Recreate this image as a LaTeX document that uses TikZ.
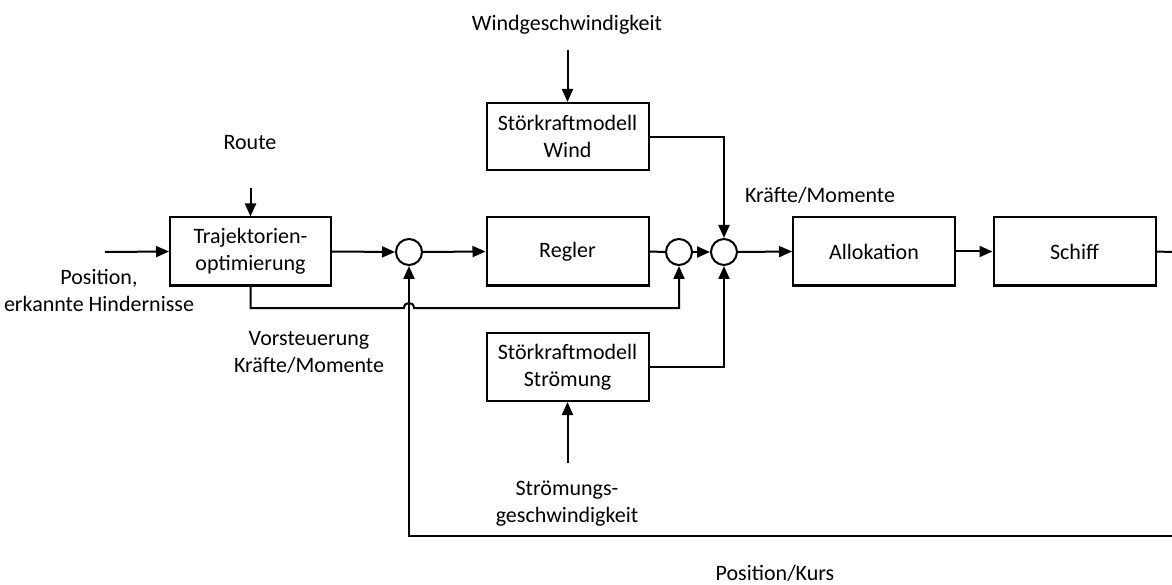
\documentclass[tikz,border=0pt]{standalone}
\usepackage{fontspec}
\setmainfont{Carlito}
\usetikzlibrary{arrows.meta}
\begin{document}
\begin{tikzpicture}[x=1pt,y=-1pt,
  every node/.style={font=\fontsize{22}{27}\selectfont},
  block/.style={draw,line width=2pt,minimum width=162pt,minimum height=68pt,inner sep=0pt,align=center},
  sumpt/.style={draw,circle,line width=2pt,minimum size=26pt,inner sep=0pt},
  lbl/.style={inner sep=0pt,align=center},
  conn/.style={line width=2pt},
  arr/.style={conn,-{Triangle[length=13pt,width=11pt]}}]
\useasboundingbox (0,0) rectangle (1172,585);

% blocks
\node[block,minimum width=161pt] (traj) at (250.5,251.5) {Trajektorien-\\optimierung};
\node[block] (regler) at (567.5,251.5) {Regler};
\node[block,minimum height=67pt] (wind) at (567.5,136.5) {Störkraftmodell\\Wind};
\node[block] (stroem) at (567.5,367) {Störkraftmodell\\Strömung};
\node[block] (alloc) at (874,251.5) {Allokation};
\node[block] (schiff) at (1074.5,251.5) {Schiff};

% summing points
\node[sumpt] (s1) at (409,252) {};
\node[sumpt] (s2) at (679,252) {};
\node[sumpt] (s3) at (724,252) {};

% labels
\node[lbl] (lwind) at (567,25) {Windgeschwindigkeit};
\node[lbl] (lroute) at (250,143) {Route};
\node[lbl] (lpos) at (99,290) {Position,\\erkannte Hindernisse};
\node[lbl] (lkraft) at (820,195) {Kräfte/Momente};
\node[lbl] (lvor) at (309,352) {Vorsteuerung\\Kräfte/Momente};
\node[lbl] (lstr) at (567,504) {Strömungs-\\geschwindigkeit};
\node[lbl] (lkurs) at (775,573) {Position/Kurs};

% free ends
\coordinate (inp) at (105,252);
\coordinate (route) at (250.5,188);
\coordinate (windin) at (567.5,50);
\coordinate (strin) at (567.5,463);
\coordinate (outr) at (1172,252);
\coordinate (fbr) at (1172,536);

% signal flow
\draw[arr] (inp) -- (traj.west);
\draw[arr] (route) -- (traj.north);
\draw[arr] (traj.east) -- (s1.west);
\draw[arr] (s1.east) -- (regler.west);
\draw[conn] (regler.east) -- (s2.west);
\draw[arr] (s2.east) -- (s3.west);
\draw[arr] (s3.east) -- (alloc.west);
\draw[arr] (alloc.east) -- (schiff.west);
\draw[conn] (schiff.east) -- (outr);

% disturbance models
\draw[arr] (windin) -- (wind.north);
\draw[arr] (wind.east |- 0,137) -| (s3.north);
\draw[arr] (strin) -- (stroem.south);
\draw[arr] (stroem.east) -| (s3.south);

% feedforward with line hop over the feedback line
\draw[arr] (traj.south) -- (250.5,308) -- (404,308)
  .. controls (404,301.3) and (414,301.3) .. (414,308)
  -| (s2.south);

% feedback
\draw[arr] (fbr) -- (409,536) -- (s1.south);
\end{tikzpicture}
\end{document}
